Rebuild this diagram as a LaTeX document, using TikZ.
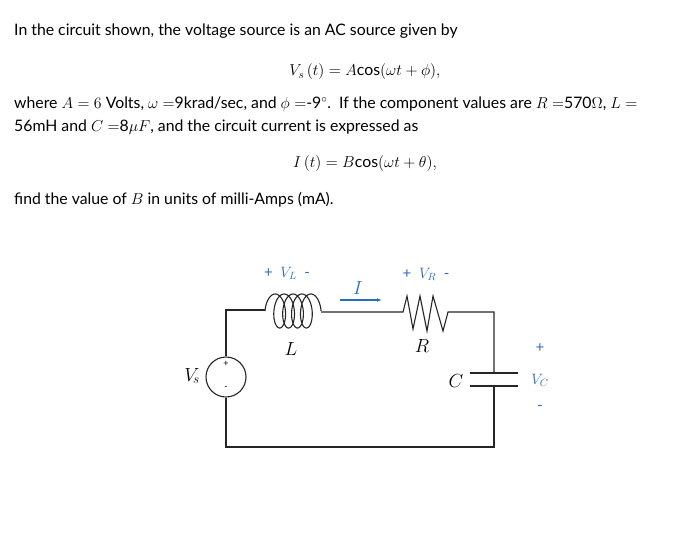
\RequirePackage{fix-cm}
\documentclass[tikz,border=0pt]{standalone}
\usepackage{fontspec}
\setmainfont{Lato}
\usetikzlibrary{arrows.meta}
\definecolor{vblue}{RGB}{40,110,190}
\tikzset{
  txt/.style={anchor=west,inner sep=0pt,font=\fontsize{15.8}{19}\selectfont},
  eq/.style={inner sep=0pt,font=\fontsize{15.8}{19}\selectfont},
  wire/.style={line width=1.1pt,color=black!85},
  lbl/.style={inner sep=0pt,color=vblue,font=\fontsize{15}{18}\selectfont},
  part/.style={inner sep=0pt,font=\fontsize{19}{22}\selectfont},
}
\begin{document}
\begin{tikzpicture}[x=1pt,y=-1pt]
\useasboundingbox (0,0) rectangle (700,546);

% Text
\node[txt] (line1) at (14,31) {In the circuit shown, the voltage source is an AC source given by};
\node[eq] (vseq) at (365,72) {$V_s\left(t\right)=A\mathrm{cos}(\omega t+\phi),$};
\node[txt] (line2) at (14,104) {where $A=6$ Volts, $\omega=$9krad/sec, and $\phi=$-9$^\circ$.\ \ If the component values are $R=$570$\Omega$, $L=$};
\node[txt] (line3) at (14,127) {56mH and $C=$8$\mu F$, and the circuit current is expressed as};
\node[eq] (ieq) at (365,164) {$I\left(t\right)=B\mathrm{cos}(\omega t+\theta),$};
\node[txt] (line4) at (14,200) {find the value of $B$ in units of milli-Amps (mA).};

% Circuit
\coordinate (tl) at (226,310);
\coordinate (la) at (265,310);
\coordinate (lb) at (321,312);
\coordinate (ra) at (403,312);
\coordinate (rb) at (448,312);
\coordinate (tr) at (494,312);
\coordinate (ct) at (494,373);
\coordinate (cb) at (494,386);
\coordinate (br) at (494,447);
\coordinate (bl) at (226,447);
\node[draw,circle,wire,minimum size=40pt,inner sep=0pt] (src) at (226,377) {};
\node[inner sep=0pt,font=\small] at (226,364) {+};
\node[inner sep=0pt,font=\small] at (226,388) {-};

\draw[wire] (src.north) -- (tl) -- (la);
\draw[wire] plot[domain=0:1620,samples=300,smooth] ({265+8.9*\x/360+8*(1-cos(\x))},{311-17*sin(\x)});
\draw[wire] (lb) -- (ra) -- (407,296) -- (413,329) -- (420,296) -- (427,331) -- (433,296) -- (443,331) -- (rb) -- (tr) -- (ct);
\draw[wire] (470,373) -- (518,373);
\draw[wire] (470,386) -- (518,386);
\draw[wire] (cb) -- (br) -- (bl) -- (src.south);

% Labels
\node[part] (lL) at (291,349) {$L$};
\node[part] (lR) at (422,346) {$R$};
\node[part] (lC) at (456,381) {$C$};
\node[part] (lVs) at (192,376) {$V_{\!s}$};
\node[lbl] (vl) at (287,273) {+\ \ $V_L$\ \ -};
\node[lbl] (vr) at (426,274) {+\ \ $V_R$\ \ -};
\node[lbl] (pc) at (540,348) {+};
\node[lbl] (vc) at (540,380) {$V_C$};
\node[lbl] (mc) at (540,408) {-};
\node[lbl,font=\fontsize{19}{22}\selectfont] (ilbl) at (358,288) {$I$};
\draw[vblue,line width=1.1pt,-{Latex[length=5pt]}] (340,300) -- (382,300);
\end{tikzpicture}
\end{document}
